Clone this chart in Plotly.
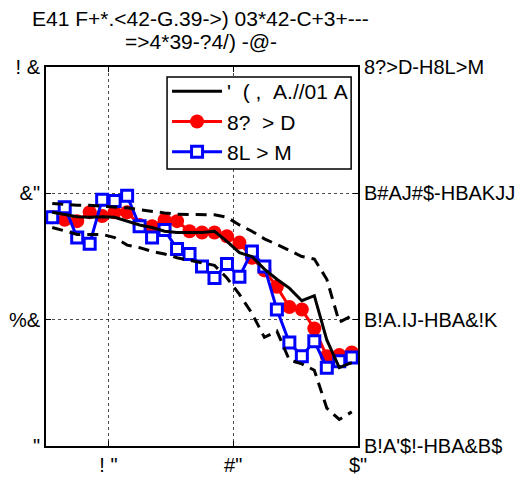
import plotly.graph_objects as go

# ---- data ----
x_vals = [5.5, 6.5, 7.5, 8.5, 9.5, 10.5, 11.5, 12.5, 13.5, 14.5, 15.5, 16.5, 17.5,
          18.5, 19.5, 20.5, 21.5, 22.5, 23.5, 24.5, 25.5, 26.5, 27.5, 28.5, 29.5]

red_vals = [1.81, 1.79, 1.78, 1.85, 1.82, 1.85, 1.85, 1.75, 1.74, 1.79, 1.78, 1.70, 1.69,
            1.69, 1.66, 1.61, 1.49, 1.39, 1.26, 1.10, 1.08, 0.93, 0.71, 0.72, 0.74]

blue_vals = [1.81, 1.89, 1.65, 1.60, 1.95, 1.94, 1.98, 1.74, 1.65, 1.71, 1.56, 1.52, 1.42,
             1.33, 1.44, 1.34, 1.54, 1.42, 1.08, 0.82, 0.71, 0.83, 0.62, 0.67, 0.70]

black_vals = [1.85, 1.83, 1.815, 1.81, 1.815, 1.81, 1.78, 1.75, 1.73, 1.70, 1.69, 1.69, 1.69,
              1.70, 1.62, 1.53, 1.50, 1.40, 1.32, 1.25, 1.15, 1.19, 0.84, 0.62, 0.66]

upper_vals = [1.92, 1.91, 1.905, 1.905, 1.90, 1.895, 1.885, 1.87, 1.855, 1.845, 1.835, 1.833, 1.833,
              1.83, 1.81, 1.75, 1.70, 1.64, 1.595, 1.55, 1.50, 1.48, 1.32, 0.98, 1.03]

lower_vals = [1.73, 1.70, 1.675, 1.675, 1.675, 1.65, 1.59, 1.57, 1.54, 1.52, 1.49, 1.47, 1.45,
              1.43, 1.33, 1.20, 1.05, 0.86, 0.91, 0.68, 0.65, 0.60, 0.30, 0.21, 0.27]

x_tickvals = [10, 20, 30]
x_ticktext = ['! "', '#"', '$"']
y_tickvals = [0, 1, 2, 3]
y_ticktext_left = ['"', '%&amp;', '&amp;"', '! &amp;']
y_ticktext_right = ["B!A'$!-HBA&amp;B$", "B!A.IJ-HBA&amp;!K", "B#AJ#$-HBAKJJ", "8?&gt;D-H8L&gt;M"]

NB = "\u00a0"
name_black = "'" + NB + NB + "(" + NB + "," + NB + NB + "A.//01" + NB + "A"
name_red = "8?" + NB + NB + "&gt;" + NB + "D"
name_blue = "8L" + NB + "&gt;" + NB + "M"
title_line1 = "E41 F+*.&lt;42-G.39-&gt;) 03*42-C+3+---"
title_line2 = "=&gt;4*39-?4/) -@-"

FONT = "Liberation Sans, Arial, sans-serif"

fig = go.Figure()

fig.add_trace(go.Scatter(x=x_vals, y=red_vals, mode="lines+markers", name=name_red,
                         line=dict(color="#ff0000", width=3),
                         marker=dict(symbol="circle", size=14, color="#ff0000"),
                         legendrank=2))
fig.add_trace(go.Scatter(x=x_vals, y=blue_vals, mode="lines+markers", name=name_blue,
                         line=dict(color="#0000ff", width=3),
                         marker=dict(symbol="square", size=11, color="white",
                                     line=dict(color="#0000ff", width=3)),
                         legendrank=3))
fig.add_trace(go.Scatter(x=x_vals, y=black_vals, mode="lines", name=name_black,
                         line=dict(color="black", width=3), legendrank=1))
fig.add_trace(go.Scatter(x=x_vals, y=upper_vals, mode="lines", showlegend=False,
                         line=dict(color="black", width=3, dash="11px,7px")))
fig.add_trace(go.Scatter(x=x_vals, y=lower_vals, mode="lines", showlegend=False,
                         line=dict(color="black", width=3, dash="11px,7px")))
# invisible trace to activate the right axis
fig.add_trace(go.Scatter(x=[x_vals[0]], y=[red_vals[0]], yaxis="y2", mode="markers",
                         marker=dict(opacity=0), showlegend=False, hoverinfo="skip"))

fig.update_layout(
    width=521, height=480,
    margin=dict(l=38, r=171, t=59, b=42, autoexpand=False),
    paper_bgcolor="white", plot_bgcolor="white",
    font=dict(family=FONT, size=20, color="black"),
    showlegend=True,
    legend=dict(x=0.388, xanchor="left", y=0.9894, yanchor="top",
                bgcolor="rgba(0,0,0,0)", borderwidth=0,
                font=dict(family=FONT, size=21, color="black"),
                itemwidth=50, tracegroupgap=0),
    shapes=[dict(type="rect", xref="paper", yref="paper", x0=0.388, x1=0.978,
                 y0=0.7309, y1=0.9736, fillcolor="white",
                 line=dict(color="black", width=1.5), layer="above")],
    annotations=[
        dict(text=title_line1, xref="paper", yref="paper", x=0.494, y=1.129,
             xanchor="center", yanchor="middle", showarrow=False,
             font=dict(family=FONT, size=21, color="black")),
        dict(text=title_line2, xref="paper", yref="paper", x=0.497, y=1.0686,
             xanchor="center", yanchor="middle", showarrow=False,
             font=dict(family=FONT, size=21, color="black")),
    ],
    xaxis=dict(range=[5, 30], tickvals=x_tickvals, ticktext=x_ticktext, automargin=False,
               showline=True, linecolor="black", linewidth=2, mirror="ticks",
               ticks="inside", ticklen=5, tickcolor="black",
               showgrid=True, gridcolor="rgba(0,0,0,0.7)", griddash="dot", gridwidth=1,
               zeroline=False, tickfont=dict(size=20)),
    yaxis=dict(range=[0, 3], tickvals=y_tickvals, ticktext=y_ticktext_left, automargin=False,
               showline=True, linecolor="black", linewidth=2, mirror=True,
               ticks="inside", ticklen=5, tickcolor="black",
               showgrid=True, gridcolor="rgba(0,0,0,0.7)", griddash="dot", gridwidth=1,
               zeroline=False, tickfont=dict(size=20)),
    yaxis2=dict(range=[0, 3], overlaying="y", side="right", tickvals=y_tickvals, automargin=False,
                ticktext=y_ticktext_right, showline=True, linecolor="black", linewidth=2,
                ticks="inside", ticklen=5, tickcolor="black", showgrid=False,
                zeroline=False, tickfont=dict(size=20)),
)

fig.write_html("out.html")
